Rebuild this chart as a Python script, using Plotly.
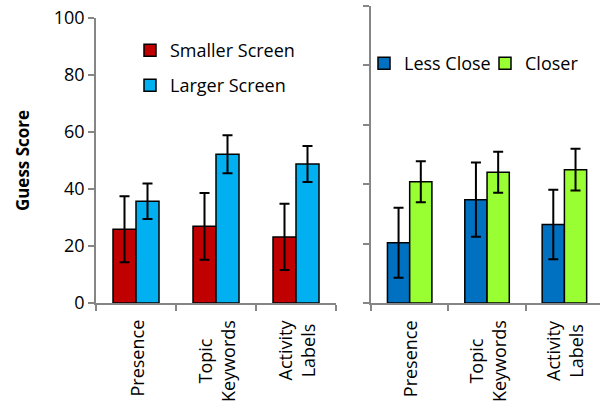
import plotly.graph_objects as go

categories = ["Presence", "Topic<br>Keywords", "Activity<br>Labels"]
cat_keys = ["Presence", "Topic Keywords", "Activity Labels"]

smaller_screen = [25.9, 26.9, 23.2]
smaller_err = [11.6, 11.7, 11.6]
larger_screen = [35.7, 52.2, 48.8]
larger_err = [6.2, 6.7, 6.3]

less_close = [20.3, 34.8, 26.4]
less_close_err = [11.8, 12.5, 11.7]
closer = [40.8, 44.0, 44.9]
closer_err = [6.9, 6.9, 7.0]

y_ticks = [0, 20, 40, 60, 80, 100]

FONT = "Open Sans"
AXIS_GRAY = "#868686"

def bar(name, x, y, err, color, xa, ya, legend):
    return go.Bar(
        name=name, x=x, y=y, xaxis=xa, yaxis=ya, legend=legend, showlegend=True,
        marker=dict(color=color, line=dict(color="black", width=1.5)),
        error_y=dict(type="data", array=err, visible=True, color="black",
                     thickness=2, width=5),
    )

fig = go.Figure()
fig.add_trace(bar("Smaller Screen", cat_keys, smaller_screen, smaller_err, "#C00000", "x", "y", "legend"))
fig.add_trace(bar("Larger Screen", cat_keys, larger_screen, larger_err, "#00B0F0", "x", "y", "legend2"))
fig.add_trace(bar("Less Close", cat_keys, less_close, less_close_err, "#0070C0", "x2", "y2", "legend3"))
fig.add_trace(bar("Closer", cat_keys, closer, closer_err, "#99FF33", "x2", "y2", "legend3"))

axis_common = dict(showline=True, linecolor=AXIS_GRAY, linewidth=1.5,
                   ticks="outside", tickcolor=AXIS_GRAY, ticklen=6, tickwidth=1.5,
                   showgrid=False, zeroline=False)

fig.update_layout(
    width=600, height=404,
    margin=dict(l=0, r=0, t=0, b=0, autoexpand=False),
    plot_bgcolor="white", paper_bgcolor="white",
    font=dict(family=FONT, size=18, color="black"),
    showlegend=True,
    barmode="group", bargap=0.425, bargroupgap=0,
    xaxis=dict(domain=[96/600, 336/600], type="category", tickson="boundaries",
               showticklabels=False, range=[-0.5, 2.5], anchor="y", **axis_common),
    yaxis=dict(domain=[101/404, 386/404], range=[0, 100], tickvals=y_ticks,
               title=dict(text="<b>Guess Score</b>", standoff=20, font=dict(size=17)),
               anchor="x", **axis_common),
    xaxis2=dict(domain=[371/600, 1.0], type="category", tickson="boundaries",
                showticklabels=False, range=[-0.5, 2.46], anchor="y2", **axis_common),
    yaxis2=dict(domain=[101/404, 398/404], range=[0, 100], tickvals=y_ticks,
                showticklabels=False, anchor="x2", **axis_common),
    legend=dict(x=130/600, y=1-32/404, xanchor="left", yanchor="top",
                bgcolor="rgba(0,0,0,0)", font=dict(size=18)),
    legend2=dict(x=130/600, y=1-67/404, xanchor="left", yanchor="top",
                 bgcolor="rgba(0,0,0,0)", font=dict(size=18)),
    legend3=dict(x=364/600, y=1-45/404, xanchor="left", yanchor="top",
                 orientation="h", entrywidth=76, entrywidthmode="pixels",
                 bgcolor="rgba(0,0,0,0)", font=dict(size=18)),
)

for xa in ["x", "x2"]:
    for key, label in zip(cat_keys, categories):
        fig.add_annotation(x=key, y=1-318/404, xref=xa, yref="paper",
                           text=label, textangle=-90, showarrow=False,
                           xanchor="center", yanchor="top", align="center",
                           font=dict(size=18))

fig.write_html("out.html", config={"displayModeBar": False},
               post_script="document.body.style.margin='0';")
